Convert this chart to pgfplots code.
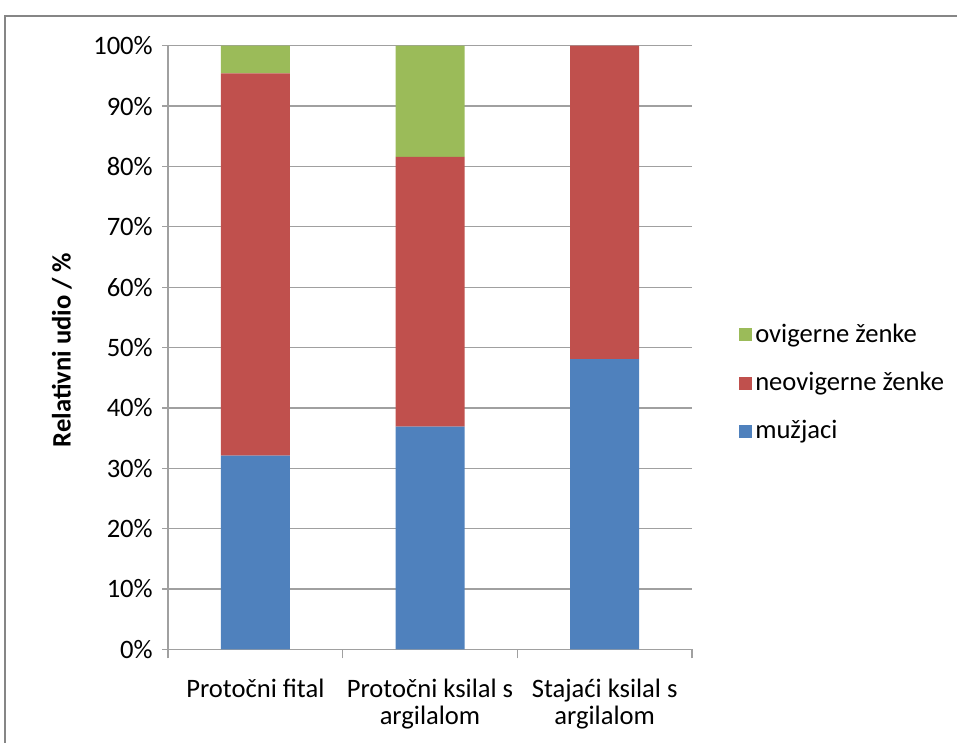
\documentclass[border=0pt]{standalone}
\usepackage{fontspec}
\setmainfont{Carlito}
\usepackage{pgfplots}
\pgfplotsset{compat=1.18}
\definecolor{mblue}{HTML}{4F81BD}
\definecolor{mred}{HTML}{C0504D}
\definecolor{mgreen}{HTML}{9BBB59}
\definecolor{gridgray}{HTML}{A0A0A0}
\definecolor{framegray}{HTML}{868686}

\begin{document}
\fontsize{13.3}{16}\selectfont
\begin{tikzpicture}[x=0.5pt,y=0.5pt]
\useasboundingbox (0,0) rectangle (957,743);
\draw[framegray, line width=1pt] (5,-50) -- (5,727) -- (1050,727);
\begin{axis}[
    at={(84pt,46.8pt)}, anchor=south west,
    scale only axis, width=262pt, height=301.85pt,
    ybar stacked, bar width=34.5pt,
    xmin=-0.5, xmax=2.5, ymin=0, ymax=100,
    axis lines*=left,
    axis line style={gridgray, line width=0.6pt},
    tick style={gridgray, line width=0.6pt},
    tick align=outside,
    major tick length=3pt,
    xtick={0,1,2},
    xticklabels={Protočni fital, Protočni ksilal s\\argilalom, Stajaći ksilal s\\argilalom},
    x tick style={draw=none},
    extra x ticks={-0.5,0.5,1.5,2.5},
    extra x tick labels={},
    extra x tick style={major tick length=4.5pt, x tick style={draw=gridgray}},
    x tick label style={align=center, font=\fontsize{13.3}{13.5}\selectfont, yshift=-7pt},
    ytick={0,10,...,100},
    yticklabel={\pgfmathprintnumber{\tick}\%},
    /pgf/number format/assume math mode=true,
    ymajorgrids, grid style={gridgray, line width=0.6pt},
    legend style={at={(1.078,0.441)}, anchor=west, draw=none, fill=none,
        row sep=9pt, cells={anchor=west}, nodes={inner xsep=1.5pt}},
    reverse legend,
    legend image code/.code={\fill[#1] (0pt,-3.25pt) rectangle (6.5pt,3.25pt);},
]
\addplot[fill=mblue, draw=none] coordinates {(0,32.1) (1,36.9) (2,48.1)};
\addlegendentry{mužjaci}
\addplot[fill=mred, draw=none] coordinates {(0,63.3) (1,44.7) (2,51.9)};
\addlegendentry{neovigerne ženke}
\addplot[fill=mgreen, draw=none] coordinates {(0,4.6) (1,18.4) (2,0)};
\addlegendentry{ovigerne ženke}
\end{axis}
\node[rotate=90, font=\bfseries] at (62,393) {Relativni udio / \%};
\end{tikzpicture}
\end{document}
